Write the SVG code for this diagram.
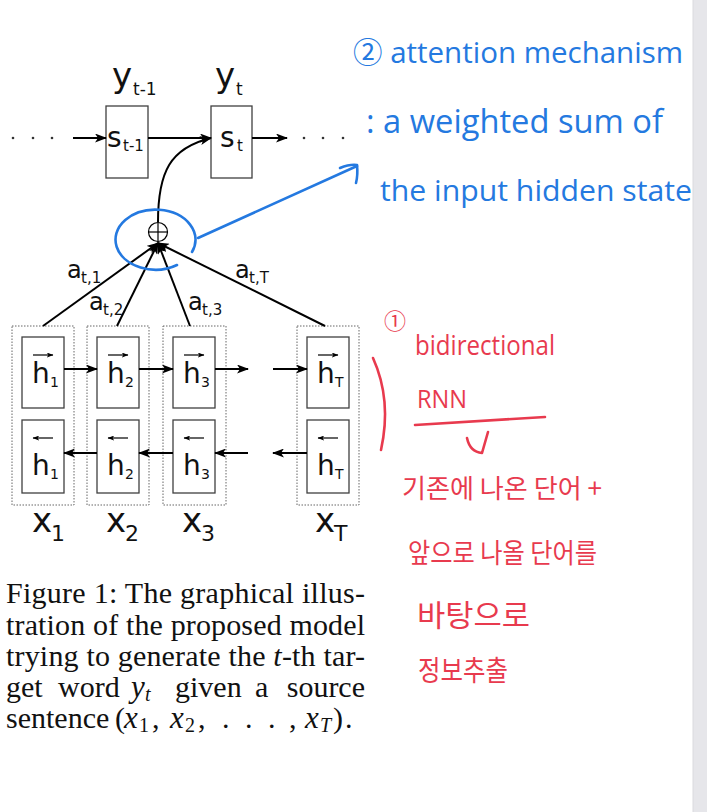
<svg xmlns="http://www.w3.org/2000/svg" width="707" height="812" viewBox="0 0 707 812">
<defs>
<marker id="ah" viewBox="0 0 12 9" refX="11" refY="4.5" markerWidth="12" markerHeight="9" markerUnits="userSpaceOnUse" orient="auto">
<path d="M0,0 L12,4.5 L0,9 L3,4.5 z" fill="#000"/>
</marker>
<marker id="acc" viewBox="0 0 8 6" refX="7.5" refY="3" markerWidth="7" markerHeight="5" markerUnits="userSpaceOnUse" orient="auto">
<path d="M0,0 L8,3 L0,6 L2,3 z" fill="#000"/>
</marker>
<style>
.box{fill:#fff;stroke:#404040;stroke-width:1.3}
.outer{fill:none;stroke:#666;stroke-width:1;stroke-dasharray:1.5 1.5}
.lbl{font-family:"DejaVu Sans",sans-serif;fill:#111}
.conn path{fill:none;stroke:#000;stroke-width:2}
.accent{stroke:#000;stroke-width:1.2}
.dot{fill:#333}
.blue{fill:none;stroke:#2479e0;stroke-width:2.6;stroke-linecap:round;stroke-linejoin:round}
.red{fill:none;stroke:#e83a4e;stroke-width:2.6;stroke-linecap:round;stroke-linejoin:round}
.hb{font-family:"Open Sans","Noto Sans CJK KR",sans-serif;fill:#2479e0}
.hr{font-family:"Open Sans","Noto Sans CJK KR",sans-serif;fill:#e83a4e}
.hk{font-family:"Noto Sans CJK KR",sans-serif;fill:#e83a4e}
.cap{font-family:"Liberation Serif",serif;font-size:30px;fill:#111}
.it{font-style:italic}
.mx{font-style:italic;font-size:31px}
.sb{font-size:20px}
</style>
</defs>
<rect x="0" y="0" width="707" height="812" fill="#fff"/>
<rect x="693" y="0" width="14" height="812" fill="#e6e6ea"/>
<line x1="693" y1="0" x2="693" y2="812" stroke="#dadade" stroke-width="1"/>

<!-- decoder -->
<g id="dots-left"><circle class="dot" cx="13" cy="138" r="1.3"/><circle class="dot" cx="33" cy="138" r="1.3"/><circle class="dot" cx="52" cy="138" r="1.3"/></g>
<g id="dots-right"><circle class="dot" cx="304" cy="138" r="1.3"/><circle class="dot" cx="323" cy="138" r="1.3"/><circle class="dot" cx="343" cy="138" r="1.3"/></g>
<g id="s_prev">
<rect class="box" x="106" y="106" width="42" height="72"/>
<text class="lbl" x="107" y="147" font-size="28">s</text>
<text class="lbl" x="123" y="151" font-size="15">t-1</text>
</g>
<g id="s_t">
<rect class="box" x="211" y="106" width="41" height="72"/>
<text class="lbl" x="220" y="147" font-size="28">s</text>
<text class="lbl" x="237" y="151" font-size="15">t</text>
</g>
<g id="y_prev">
<text class="lbl" x="112" y="87" font-size="34">y</text>
<text class="lbl" x="133" y="95" font-size="17">t-1</text>
</g>
<g id="y_t">
<text class="lbl" x="215" y="87" font-size="34">y</text>
<text class="lbl" x="236" y="95" font-size="17">t</text>
</g>

<!-- oplus -->
<g id="oplus">
<circle cx="158" cy="232" r="9.5" fill="#fff" stroke="#000" stroke-width="1.2"/>
<line x1="148.5" y1="232" x2="167.5" y2="232" stroke="#000" stroke-width="1.2"/>
<line x1="158" y1="222.5" x2="158" y2="241.5" stroke="#000" stroke-width="1.2"/>
</g>

<!-- encoder columns -->
<g id="col1">
<rect class="outer" x="12" y="326" width="62" height="179"/>
<rect class="box" x="22" y="337" width="42" height="71"/>
<rect class="box" x="22" y="420" width="42" height="73"/>
<text class="lbl" x="32" y="383" font-size="28">h</text><text class="lbl" x="50" y="387" font-size="14">1</text>
<line class="accent" x1="33" y1="355" x2="53" y2="355" marker-end="url(#acc)"/>
<text class="lbl" x="32" y="475" font-size="28">h</text><text class="lbl" x="50" y="479" font-size="14">1</text>
<line class="accent" x1="53" y1="438" x2="33" y2="438" marker-end="url(#acc)"/>
</g>
<g id="col2">
<rect class="outer" x="87" y="326" width="62" height="179"/>
<rect class="box" x="97" y="337" width="42" height="71"/>
<rect class="box" x="97" y="420" width="42" height="73"/>
<text class="lbl" x="107" y="383" font-size="28">h</text><text class="lbl" x="125" y="387" font-size="14">2</text>
<line class="accent" x1="108" y1="355" x2="128" y2="355" marker-end="url(#acc)"/>
<text class="lbl" x="107" y="475" font-size="28">h</text><text class="lbl" x="125" y="479" font-size="14">2</text>
<line class="accent" x1="128" y1="438" x2="108" y2="438" marker-end="url(#acc)"/>
</g>
<g id="col3">
<rect class="outer" x="163" y="326" width="63" height="179"/>
<rect class="box" x="173" y="337" width="42" height="71"/>
<rect class="box" x="173" y="420" width="42" height="73"/>
<text class="lbl" x="183" y="383" font-size="28">h</text><text class="lbl" x="201" y="387" font-size="14">3</text>
<line class="accent" x1="184" y1="355" x2="204" y2="355" marker-end="url(#acc)"/>
<text class="lbl" x="183" y="475" font-size="28">h</text><text class="lbl" x="201" y="479" font-size="14">3</text>
<line class="accent" x1="204" y1="438" x2="184" y2="438" marker-end="url(#acc)"/>
</g>
<g id="colT">
<rect class="outer" x="297" y="326" width="62" height="179"/>
<rect class="box" x="307" y="337" width="42" height="71"/>
<rect class="box" x="307" y="420" width="42" height="73"/>
<text class="lbl" x="317" y="383" font-size="28">h</text><text class="lbl" x="335" y="387" font-size="14">T</text>
<line class="accent" x1="318" y1="355" x2="338" y2="355" marker-end="url(#acc)"/>
<text class="lbl" x="317" y="475" font-size="28">h</text><text class="lbl" x="335" y="479" font-size="14">T</text>
<line class="accent" x1="338" y1="438" x2="318" y2="438" marker-end="url(#acc)"/>
</g>

<!-- x labels -->
<g id="x1"><text class="lbl" x="32" y="532" font-size="34">x</text><text class="lbl" x="51" y="541" font-size="22">1</text></g>
<g id="x2"><text class="lbl" x="106" y="532" font-size="34">x</text><text class="lbl" x="125" y="541" font-size="22">2</text></g>
<g id="x3"><text class="lbl" x="182" y="532" font-size="34">x</text><text class="lbl" x="201" y="541" font-size="22">3</text></g>
<g id="xT"><text class="lbl" x="315" y="532" font-size="34">x</text><text class="lbl" x="334" y="541" font-size="22">T</text></g>

<!-- attention weights -->
<g id="a1"><text class="lbl" x="67" y="278" font-size="24">a</text><text class="lbl" x="81" y="283" font-size="15">t,1</text></g>
<g id="a2"><text class="lbl" x="89" y="310" font-size="24">a</text><text class="lbl" x="103" y="315" font-size="15">t,2</text></g>
<g id="a3"><text class="lbl" x="188" y="310" font-size="24">a</text><text class="lbl" x="202" y="315" font-size="15">t,3</text></g>
<g id="aT"><text class="lbl" x="235" y="278" font-size="24">a</text><text class="lbl" x="249" y="283" font-size="15">t,T</text></g>

<!-- connectors -->
<g id="connectors" class="conn">
<path d="M73,138 L106,138" marker-end="url(#ah)"/>
<path d="M148,138 L211,138" marker-end="url(#ah)"/>
<path d="M252,138 L287,138" marker-end="url(#ah)"/>
<path d="M158,222 C158,172 170,148 211,138" marker-end="url(#ah)"/>
<path d="M43,326 L158,243" marker-end="url(#ah)"/>
<path d="M117,326 L158,243" marker-end="url(#ah)"/>
<path d="M190,326 L158,243" marker-end="url(#ah)"/>
<path d="M325,326 L158,243" marker-end="url(#ah)"/>
<path d="M64,369 L97,369" marker-end="url(#ah)"/>
<path d="M139,369 L173,369" marker-end="url(#ah)"/>
<path d="M215,369 L248,369" marker-end="url(#ah)"/>
<path d="M273,369 L307,369" marker-end="url(#ah)"/>
<path d="M97,453 L64,453" marker-end="url(#ah)"/>
<path d="M173,453 L139,453" marker-end="url(#ah)"/>
<path d="M248,453 L215,453" marker-end="url(#ah)"/>
<path d="M307,453 L273,453" marker-end="url(#ah)"/>
</g>

<!-- blue annotation -->
<g id="note-attention">
<path class="blue" d="M177,265 A40,30 0 1 1 192,252"/>
<path class="blue" d="M198,238 L357,166"/>
<path class="blue" d="M340,168 Q350,164 357,165 Q358,175 356,183"/>
<text class="hb" x="353" y="63" font-size="30" textLength="330" lengthAdjust="spacingAndGlyphs">② attention mechanism</text>
<text class="hb" x="366" y="133" font-size="32" textLength="297" lengthAdjust="spacingAndGlyphs">: a weighted sum of</text>
<text class="hb" x="380" y="201" font-size="30" textLength="312" lengthAdjust="spacingAndGlyphs">the input hidden state</text>
</g>

<!-- red annotation -->
<g id="note-birnn">
<path class="red" d="M373,358 Q392,400 381,450"/>
<path class="red" d="M415,425 L545,417"/>
<path class="red" d="M488,432 L482,453 M467,438 Q470,452 482,453"/>
<text class="hr" x="384" y="329" font-size="22">①</text>
<text class="hr" x="415" y="355" font-size="28" textLength="140" lengthAdjust="spacingAndGlyphs">bidirectional</text>
<text class="hr" x="417" y="408" font-size="25" textLength="50" lengthAdjust="spacingAndGlyphs">RNN</text>
<text class="hk" x="402" y="498" font-size="26" textLength="200" lengthAdjust="spacingAndGlyphs">기존에 나온 단어 +</text>
<text class="hk" x="408" y="563" font-size="27" textLength="189" lengthAdjust="spacingAndGlyphs">앞으로 나올 단어를</text>
<text class="hk" x="417" y="626" font-size="30" textLength="113" lengthAdjust="spacingAndGlyphs">바탕으로</text>
<text class="hk" x="418" y="681" font-size="28" textLength="90" lengthAdjust="spacingAndGlyphs">정보추출</text>
</g>

<!-- caption -->
<g id="caption">
<text class="cap" x="6" y="603" textLength="359" lengthAdjust="spacing">Figure 1:  The graphical illus-</text>
<text class="cap" x="6" y="635" textLength="359" lengthAdjust="spacing">tration of the proposed model</text>
<text class="cap" x="6" y="666" textLength="359" lengthAdjust="spacing">trying to generate the <tspan class="it">t</tspan>-th tar-</text>
<text class="cap" y="697"><tspan x="6">get</tspan><tspan x="58">word</tspan><tspan x="131" class="mx">y</tspan><tspan x="145" dy="4" class="sb it">t</tspan><tspan x="175" dy="-4">given</tspan><tspan x="255">a</tspan><tspan x="365" text-anchor="end">source</tspan></text>
<text class="cap" y="728"><tspan x="6">sentence</tspan><tspan x="115">(</tspan><tspan x="124" class="mx">x</tspan><tspan x="139" dy="4" class="sb">1</tspan><tspan x="152" dy="-4">,</tspan><tspan x="170" class="mx">x</tspan><tspan x="185" dy="4" class="sb">2</tspan><tspan x="198" dy="-4">,</tspan><tspan x="222">.</tspan><tspan x="245">.</tspan><tspan x="268">.</tspan><tspan x="289">,</tspan><tspan x="305" class="mx">x</tspan><tspan x="320" dy="4" class="sb it">T</tspan><tspan x="333" dy="-4">)</tspan><tspan x="345">.</tspan></text>
</g>
</svg>
